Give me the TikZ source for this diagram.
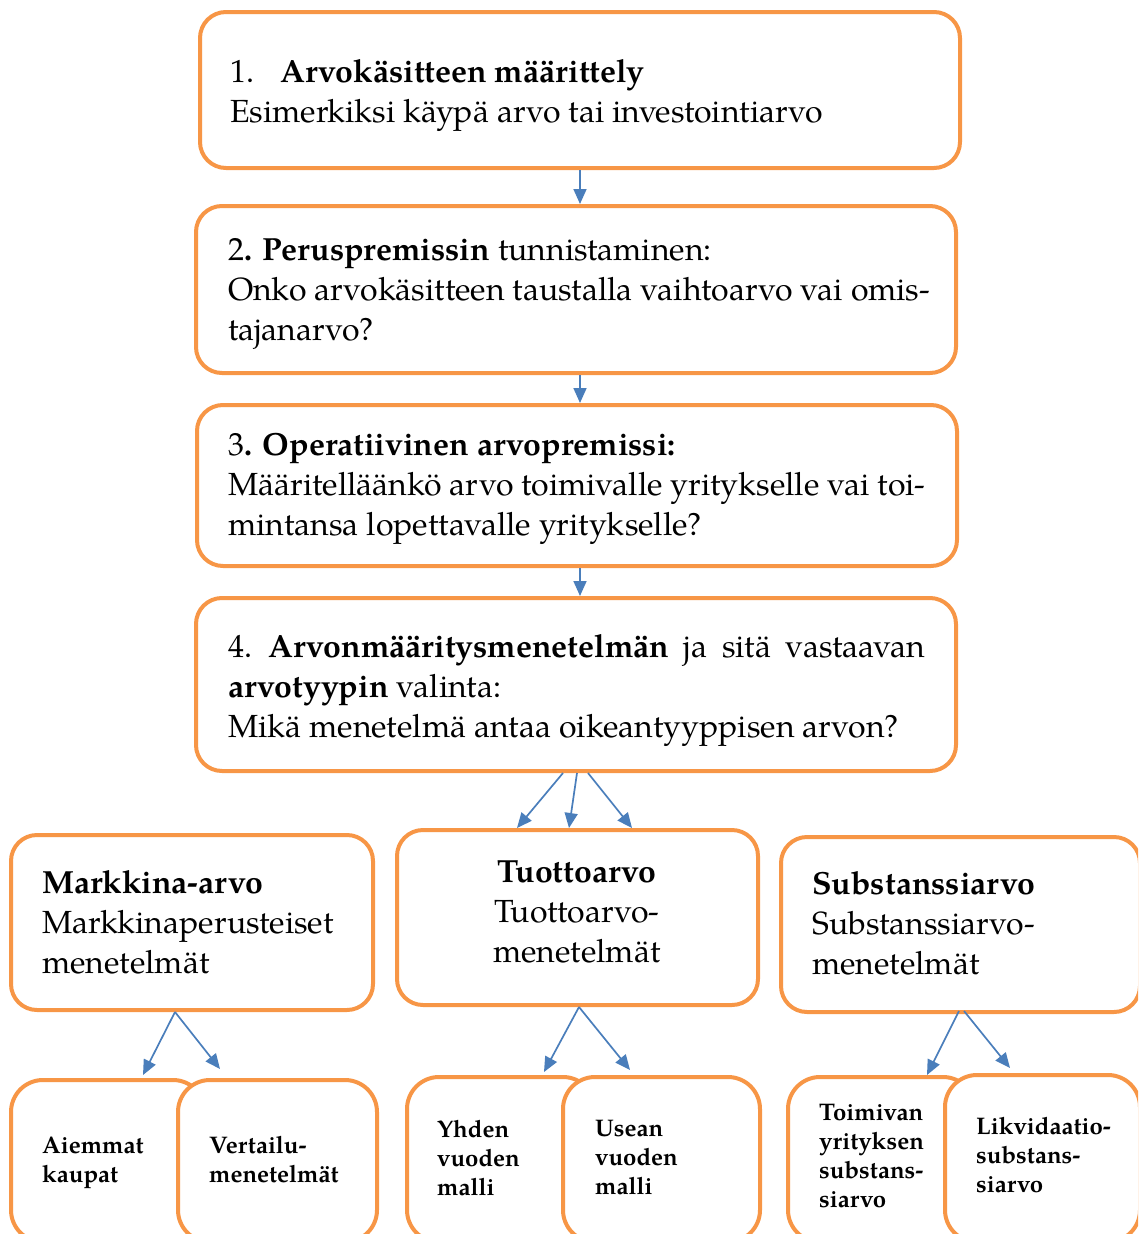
\documentclass[tikz,border=0pt]{standalone}
\usepackage{fontspec}
\setmainfont{texgyrepagella}[Extension=.otf,UprightFont=*-regular,BoldFont=*-bold,ItalicFont=*-italic,BoldItalicFont=*-bolditalic]
\usetikzlibrary{arrows.meta}
\definecolor{orng}{HTML}{F79646}
\definecolor{arblue}{HTML}{4A7EBB}
\newcommand\mainsz{\fontsize{32}{40}\selectfont}
\newcommand\smsz{\fontsize{24}{29}\selectfont\bfseries}
\tikzset{
  box/.style={draw=orng, line width=4pt, fill=white, rounded corners=26pt, inner sep=0pt, outer sep=2pt},
  sbox/.style={box, rounded corners=32pt},
  arr/.style={draw=arblue, line width=1.7pt, -{Triangle[length=15pt,width=13pt]}},
  txt/.style={inner sep=0pt, anchor=base west, font=\mainsz},
  stxt/.style={inner sep=0pt, anchor=base west, font=\smsz},
}
\begin{document}
\begin{tikzpicture}[x=1pt,y=-1pt]
\useasboundingbox (0,0) rectangle (1138,1234);
\clip (0,0) rectangle (1138,1234);
% main boxes
\node[box, minimum width=760pt, minimum height=156pt] (b1) at (580,90) {};
\node[box, minimum width=760pt, minimum height=167pt] (b2) at (576,289.5) {};
\node[box, minimum width=760pt, minimum height=161pt] (b3) at (577,485.5) {};
\node[box, minimum width=760pt, minimum height=173pt] (b4) at (576,684.5) {};
% middle row
\node[box, minimum width=362pt, minimum height=175pt] (m1) at (192,922.5) {};
\node[box, minimum width=361pt, minimum height=175pt] (m2) at (577.5,917.5) {};
\node[box, minimum width=359pt, minimum height=175pt] (m3) at (960.5,924.5) {};
% bottom row
\node[sbox, minimum width=194pt, minimum height=162pt] (a1) at (108,1161) {};
\node[sbox, minimum width=199pt, minimum height=162pt] (a2) at (277.5,1161) {};
\node[sbox, minimum width=188pt, minimum height=165pt] (c1) at (501,1159.5) {};
\node[sbox, minimum width=197pt, minimum height=165pt] (c2) at (661.5,1159.5) {};
\node[sbox, minimum width=187pt, minimum height=165pt] (d1) at (881.5,1159.5) {};
\node[sbox, minimum width=195pt, minimum height=167pt] (d2) at (1042.5,1158.5) {};
% texts
\node[txt] (t1) at (230,82) {\begin{tabular}[t]{@{}l@{}}\makebox[50pt][l]{1.}\textbf{Arvokäsitteen määrittely}\\Esimerkiksi käypä arvo tai investointiarvo\end{tabular}};
\node[txt] (t2) at (228,260) {\begin{tabular}[t]{@{}l@{}}2\textbf{. Peruspremissin} tunnistaminen:\\Onko arvokäsitteen taustalla vaihtoarvo vai omis-\\tajanarvo?\end{tabular}};
\node[txt] (t3) at (228,455) {\begin{tabular}[t]{@{}l@{}}3\textbf{. Operatiivinen arvopremissi:}\\Määritelläänkö arvo toimivalle yritykselle vai toi-\\mintansa lopettavalle yritykselle?\end{tabular}};
\node[txt] (t4) at (228,657) {\begin{tabular}[t]{@{}l@{}}\makebox[697pt][s]{\makebox[40pt][l]{4.}\textbf{Arvonmääritysmenetelmän} ja sitä vastaavan}\\\textbf{arvotyypin} valinta:\\Mikä menetelmä antaa oikeantyyppisen arvon?\end{tabular}};
\node[txt] (tm1) at (42,893) {\begin{tabular}[t]{@{}l@{}}\textbf{Markkina-arvo}\\Markkinaperusteiset\\menetelmät\end{tabular}};
\node[txt, anchor=base] (tm2) at (577,882) {\begin{tabular}[t]{@{}c@{}}\textbf{Tuottoarvo}\\Tuottoarvo-\\menetelmät\end{tabular}};
\node[txt] (tm3) at (812,894) {\begin{tabular}[t]{@{}l@{}}\textbf{Substanssiarvo}\\Substanssiarvo-\\menetelmät\end{tabular}};
\node[stxt] (ta1) at (42,1153) {\begin{tabular}[t]{@{}l@{}}Aiemmat\\kaupat\end{tabular}};
\node[stxt] (ta2) at (209,1153) {\begin{tabular}[t]{@{}l@{}}Vertailu-\\menetelmät\end{tabular}};
\node[stxt] (tc1) at (437,1137) {\begin{tabular}[t]{@{}l@{}}Yhden\\vuoden\\malli\end{tabular}};
\node[stxt] (tc2) at (595,1136) {\begin{tabular}[t]{@{}l@{}}Usean\\vuoden\\malli\end{tabular}};
\node[stxt] (td1) at (819,1120) {\begin{tabular}[t]{@{}l@{}}Toimivan\\yrityksen\\substans-\\siarvo\end{tabular}};
\node[stxt] (td2) at (976,1134) {\begin{tabular}[t]{@{}l@{}}Likvidaatio-\\substans-\\siarvo\end{tabular}};
% arrows
\draw[arr] (b1.south) -- (b1.south |- b2.north);
\draw[arr] (b1.south |- b2.south) -- (b1.south |- b3.north);
\draw[arr] (b1.south |- b3.south) -- (b1.south |- b4.north);
\draw[arr] ([xshift=-13pt]b4.south) -- ([xshift=-60.5pt]m2.north);
\draw[arr] ([xshift=1pt]b4.south) -- ([xshift=-8.5pt]m2.north);
\draw[arr] ([xshift=12pt]b4.south) -- ([xshift=54.5pt]m2.north);
\draw[arr] ([xshift=-17pt]m1.south) -- ([xshift=35pt,yshift=3pt]a1.north);
\draw[arr] ([xshift=-17pt]m1.south) -- ([xshift=-57.5pt,yshift=9pt]a2.north);
\draw[arr] ([xshift=1.5pt]m2.south) -- ([xshift=43pt,yshift=3pt]c1.north);
\draw[arr] ([xshift=1.5pt]m2.south) -- ([xshift=-31.5pt,yshift=5pt]c2.north);
\draw[arr] ([xshift=-1.5pt,yshift=3pt]m3.south) -- ([xshift=45.5pt]d1.north);
\draw[arr] ([xshift=3.5pt,yshift=3pt]m3.south) -- ([xshift=-32.5pt,yshift=5pt]d2.north);
\end{tikzpicture}
\end{document}
